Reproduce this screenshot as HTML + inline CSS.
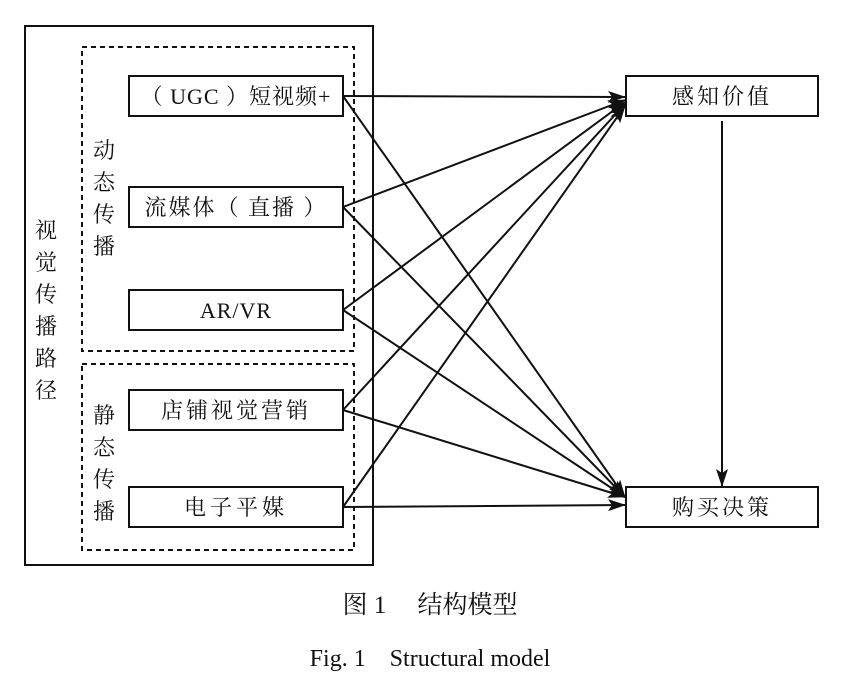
<!DOCTYPE html>
<html><head><meta charset="utf-8"><style>
body{margin:0;background:#fff;width:846px;height:692px;overflow:hidden}
svg{display:block}
text{font-family:"Liberation Serif","Noto Serif CJK SC",serif;fill:#111}
</style></head><body>
<svg width="846" height="692" viewBox="0 0 846 692">
<defs><marker id="a" markerWidth="18" markerHeight="12" refX="17" refY="6" orient="auto" markerUnits="userSpaceOnUse"><path d="M0,0 L18,6 L0,12 L4,6 z" fill="#111"/></marker></defs>
<g fill="none" stroke="#111">
<rect x="25" y="26" width="348" height="539" stroke-width="2"/>
<rect x="82" y="47" width="272" height="304" stroke-width="2" stroke-dasharray="5,4"/>
<rect x="82" y="364" width="272" height="186" stroke-width="2" stroke-dasharray="5,4"/>
<rect x="129" y="76" width="214" height="40" stroke-width="2"/>
<rect x="129" y="187" width="214" height="40" stroke-width="2"/>
<rect x="129" y="290" width="214" height="40" stroke-width="2"/>
<rect x="129" y="390" width="214" height="40" stroke-width="2"/>
<rect x="129" y="487" width="214" height="40" stroke-width="2"/>
<rect x="626" y="76" width="192" height="40" stroke-width="2"/>
<rect x="626" y="487" width="192" height="40" stroke-width="2"/>
<g stroke-width="2" marker-end="url(#a)">
<line x1="343" y1="96" x2="625" y2="97"/>
<line x1="343" y1="96" x2="625" y2="497"/>
<line x1="343" y1="207" x2="625" y2="100"/>
<line x1="343" y1="207" x2="625" y2="497"/>
<line x1="343" y1="310" x2="625" y2="102"/>
<line x1="343" y1="310" x2="625" y2="497"/>
<line x1="343" y1="410" x2="625" y2="104"/>
<line x1="343" y1="410" x2="625" y2="497"/>
<line x1="343" y1="507" x2="625" y2="106"/>
<line x1="343" y1="507" x2="625" y2="505"/>
<line x1="722" y1="121" x2="722" y2="486"/>
</g></g>
<g font-size="22" text-anchor="middle">
<text x="236" y="104" letter-spacing="1">（ UGC ）短视频+</text>
<text x="236" y="215" letter-spacing="2">流媒体（ 直播 ）</text>
<text x="236" y="318" letter-spacing="1">AR/VR</text>
<text x="236" y="418" letter-spacing="3">店铺视觉营销</text>
<text x="236" y="515" letter-spacing="4">电子平媒</text>
<text x="722" y="104" letter-spacing="3">感知价值</text>
<text x="722" y="515" letter-spacing="3">购买决策</text>
<text x="104" y="158">动</text><text x="104" y="190">态</text><text x="104" y="222">传</text><text x="104" y="254">播</text>
<text x="104" y="423">静</text><text x="104" y="455">态</text><text x="104" y="487">传</text><text x="104" y="519">播</text>
<text x="46" y="238">视</text><text x="46" y="270">觉</text><text x="46" y="302">传</text><text x="46" y="334">播</text><text x="46" y="366">路</text><text x="46" y="398">径</text>
</g>
<text x="430" y="613" font-size="25" text-anchor="middle">图 1　 结构模型</text>
<text x="430" y="666" font-size="24" text-anchor="middle">Fig. 1　Structural model</text>
</svg>
</body></html>
